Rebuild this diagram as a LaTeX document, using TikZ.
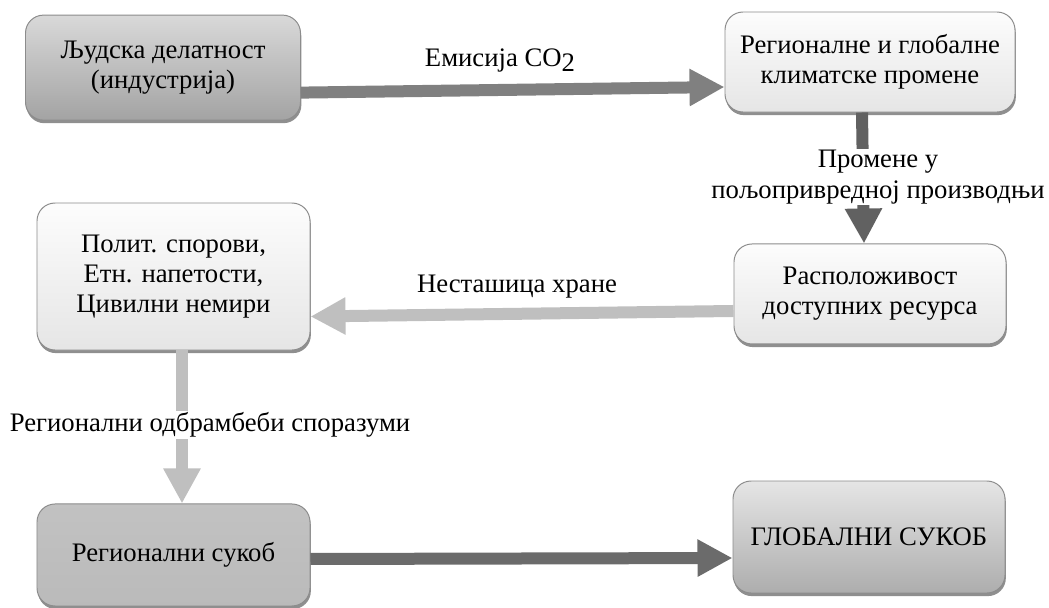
\documentclass[tikz,border=0pt]{standalone}
\usepackage{fontspec}
\setmainfont{Liberation Serif}
\usepackage{xcolor}
\usepackage{tikz}
\usetikzlibrary{positioning, arrows.meta, shadows}

\newcommand{\diagfont}{\fontsize{19}{21.5}\selectfont}

\begin{document}
\begin{tikzpicture}[
    font=\diagfont,
    stagebox/.style={rectangle, rounded corners=0.45cm, draw=black!45, line width=0.7pt, align=center, minimum width=6.8cm, minimum height=2.5cm, drop shadow={shadow xshift=0.6pt, shadow yshift=-2.2pt, fill=black!55, opacity=0.8}},
    darkbox/.style={stagebox, top color=black!15, bottom color=black!36},
    lightbox/.style={stagebox, top color=black!1, bottom color=black!10},
    flow/.style={line width=0.3cm, -{Triangle[length=0.875cm, width=0.875cm]}},
    flowlabel/.style={fill=white, inner sep=1pt, align=center},
]
\useasboundingbox (0,0) rectangle (26.225,-15.175);
% stages
\node[darkbox, minimum width=6.875cm, minimum height=2.625cm](human) at (4.075,-1.69){Људска делатност\\(индустрија)};
\node[lightbox, minimum width=7.25cm](climate) at (21.75,-1.55){Регионалне и глобалне\\климатске промене};
\node[lightbox](resources)[below = 3.275cm of climate]{Расположивост\\доступних ресурса};
\node[lightbox, minimum width=6.825cm, minimum height=3.675cm](tension) at (4.3375,-6.9125){Полит. спорови,\\Етн. напетости,\\Цивилни немири};
\node[stagebox, top color=black!24, bottom color=black!27, minimum width=6.825cm, minimum height=2.55cm](regional)[below = 3.825cm of tension]{Регионални сукоб};
\node[darkbox, top color=black!10, bottom color=black!32, minimum height=2.8cm](global) at (21.725,-13.425){ГЛОБАЛНИ СУКОБ};
% flows
\draw[flow, black!50] ([yshift=-0.625cm]human.east) -- ([yshift=-0.625cm]climate.west);
\draw[flow, black!62] ([xshift=-0.2cm]climate.south) -- ([xshift=-0.15cm]resources.north);
\draw[flow, black!25] ([yshift=-0.425cm]resources.west) -- ([yshift=-1.0cm]tension.east);
\draw[flow, black!25] ([xshift=0.2125cm]tension.south) -- ([xshift=0.2125cm]regional.north);
\draw[flow, black!58] ([yshift=-0.1cm]regional.east) -- ([yshift=-0.525cm]global.west);
% flow labels
\node[flowlabel](emission) at (12.5,-1.5){Емисија CO\raisebox{-0.45ex}{2}};
\node[flowlabel](agri) at (21.95,-4.425){Промене у\\пољопривредној производњи};
\node[flowlabel](shortage) at (12.925,-7.175){Несташица хране};
\node[flowlabel](pact) at (5.25,-10.625){Регионални одбрамбеби споразуми};
\end{tikzpicture}
\end{document}
